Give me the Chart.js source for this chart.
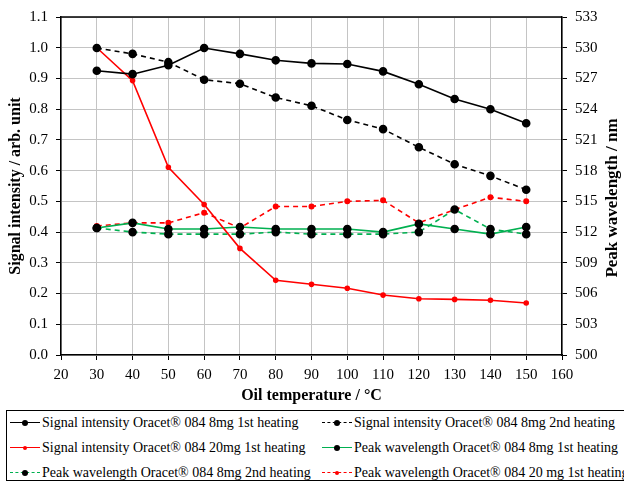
<!DOCTYPE html>
<html>
<head>
<meta charset="utf-8">
<script src="https://cdn.jsdelivr.net/npm/chart.js@4/dist/chart.umd.min.js"></script>
<style>
  body { margin: 0; background: #fff; font-family: "Liberation Serif", serif; }
  #wrap { position: relative; width: 624px; height: 482px; overflow: hidden; }
  #legendBox { position: absolute; left: 6px; top: 410px; width: 640px; height: 69px; border: 1px solid #000; font-size: 14px; }
  .item { position: absolute; height: 16px; line-height: 16px; display: flex; align-items: center; white-space: nowrap; }
  .sample { position: relative; width: 30px; height: 10px; margin-right: 2px; }
  .sample .ln { position: absolute; left: 0; right: 0; top: 4px; border-top: 1.5px solid #000; }
  .sample .pt { position: absolute; left: 12px; top: 2px; width: 6px; height: 6px; border-radius: 50%; }
</style>
</head>
<body>
<div id="wrap">
  <canvas id="chart" width="624" height="407"></canvas>
  <div id="legendBox"></div>
</div>
<script>
const temps = [30, 40, 50, 60, 70, 80, 90, 100, 110, 120, 130, 140, 150];

// signal intensity (left axis)
const sig8mg1st = [0.925, 0.914, 0.943, 0.999, 0.980, 0.959, 0.949, 0.947, 0.923, 0.881, 0.833, 0.800, 0.754];
const sig8mg2nd = [0.999, 0.980, 0.953, 0.896, 0.883, 0.838, 0.811, 0.765, 0.735, 0.676, 0.621, 0.583, 0.538];
const sig20mg1st = [1.0, 0.893, 0.611, 0.490, 0.347, 0.243, 0.230, 0.217, 0.195, 0.183, 0.181, 0.178, 0.169];

// peak wavelength (right axis, nm)
const wl8mg1st = [512.4, 512.9, 512.3, 512.3, 512.5, 512.3, 512.3, 512.3, 512.0, 512.8, 512.3, 511.8, 512.5];
const wl8mg2nd = [512.4, 512.0, 511.8, 511.8, 511.8, 512.0, 511.8, 511.8, 511.8, 512.0, 514.2, 512.3, 511.8];
const wl20mg1st = [512.6, 512.9, 512.9, 513.9, 512.4, 514.5, 514.5, 515.0, 515.1, 512.9, 514.2, 515.4, 515.0];

const labels = [
  'Signal intensity Oracet® 084 8mg 1st heating',
  'Signal intensity Oracet® 084 8mg 2nd heating',
  'Signal intensity Oracet® 084 20mg 1st heating',
  'Peak wavelength Oracet® 084 8mg 1st heating',
  'Peak wavelength Oracet® 084 8mg 2nd heating',
  'Peak wavelength Oracet® 084 20 mg 1st heating'
];

const green = '#00b050';
const red = '#ff0000';
const serif = '"Liberation Serif", serif';

function pts(vals) {
  return vals.map((v, i) => ({ x: temps[i], y: v }));
}

function ds(i, vals, color, dash, axis, pColor, pRad) {
  return {
    label: labels[i],
    data: pts(vals),
    borderColor: color,
    backgroundColor: pColor,
    pointBackgroundColor: pColor,
    pointBorderColor: pColor,
    pointRadius: pRad,
    borderWidth: 1.6,
    borderDash: dash,
    yAxisID: axis,
    tension: 0
  };
}

const datasets = [
  ds(0, sig8mg1st, '#000', [], 'y', '#000', 3.5),
  ds(1, sig8mg2nd, '#000', [5, 4], 'y', '#000', 3.5),
  ds(2, sig20mg1st, red, [], 'y', red, 2),
  ds(3, wl8mg1st, green, [], 'y2', '#000', 3.5),
  ds(4, wl8mg2nd, green, [5, 4], 'y2', '#000', 3.5),
  ds(5, wl20mg1st, red, [5, 4], 'y2', red, 2.2)
];

const font = { family: serif, size: 15 };
const titleFont = { family: serif, size: 16, weight: 'bold' };

// top border of the plot frame + right axis title (reads bottom to top)
const frameExtras = {
  id: 'frameExtras',
  afterDraw(c) {
    const a = c.chartArea, ctx = c.ctx;
    ctx.save();
    ctx.strokeStyle = '#000';
    ctx.lineWidth = 1.5;
    ctx.beginPath();
    ctx.moveTo(a.left, a.top);
    ctx.lineTo(a.right, a.top);
    ctx.stroke();
    ctx.translate(613, 198);
    ctx.rotate(-Math.PI / 2);
    ctx.fillStyle = '#000';
    ctx.font = 'bold 17px ' + serif;
    ctx.textAlign = 'center';
    ctx.textBaseline = 'middle';
    ctx.fillText('Peak wavelength / nm', 0, 0);
    ctx.restore();
  }
};

new Chart('chart', {
  type: 'line',
  data: { datasets: datasets },
  plugins: [frameExtras],
  options: {
    responsive: false,
    animation: false,
    layout: { padding: { top: 17, left: 0, right: 0, bottom: 0 } },
    plugins: { legend: { display: false }, tooltip: { enabled: false } },
    scales: {
      x: {
        type: 'linear', min: 20, max: 160,
        ticks: { stepSize: 10, color: '#000', font: font, padding: 6 },
        grid: { color: '#c4c4c4', borderDash: [4, 3], tickColor: '#000', tickBorderDash: [], tickLength: 5 },
        border: { color: '#000', width: 1.5 },
        title: { display: true, text: 'Oil temperature / °C', color: '#000', font: titleFont, padding: { top: 0, bottom: 2 } },
        afterFit(s) { s.height = 52; }
      },
      y: {
        position: 'left', min: 0, max: 1.1,
        ticks: { stepSize: 0.1, color: '#000', font: font, padding: 8, callback: v => v.toFixed(1) },
        grid: { color: '#c4c4c4', borderDash: [4, 3], tickColor: '#000', tickBorderDash: [], tickLength: 5 },
        border: { color: '#000', width: 1.5 },
        title: { display: true, text: 'Signal intensity / arb. unit', color: '#000', font: titleFont, padding: { top: 6, bottom: 0 } },
        afterFit(s) { s.width = 61; }
      },
      y2: {
        position: 'right', min: 500, max: 533,
        ticks: { stepSize: 3, color: '#000', font: font, padding: 8 },
        grid: { drawOnChartArea: false, tickColor: '#000', tickLength: 5 },
        border: { color: '#000', width: 1.5 },
        afterFit(s) { s.width = 62; }
      }
    }
  }
});

// legend box below the chart
const box = document.getElementById('legendBox');
const legPos = [[3, 4], [315, 4], [3, 29], [315, 29], [3, 54], [315, 54]];
datasets.forEach((d, i) => {
  const item = document.createElement('div');
  item.className = 'item';
  item.style.left = legPos[i][0] + 'px';
  item.style.top = legPos[i][1] + 'px';
  const sample = document.createElement('span');
  sample.className = 'sample';
  const ln = document.createElement('span');
  ln.className = 'ln';
  ln.style.borderTopColor = d.borderColor;
  if (d.borderDash.length) ln.style.borderTopStyle = 'dashed';
  const pt = document.createElement('span');
  pt.className = 'pt';
  pt.style.background = d.pointBackgroundColor;
  if (d.pointRadius < 3) { pt.style.width = '4px'; pt.style.height = '4px'; pt.style.left = '13px'; pt.style.top = '3px'; }
  sample.appendChild(ln);
  sample.appendChild(pt);
  item.appendChild(sample);
  item.appendChild(document.createTextNode(d.label));
  box.appendChild(item);
});
</script>
</body>
</html>
